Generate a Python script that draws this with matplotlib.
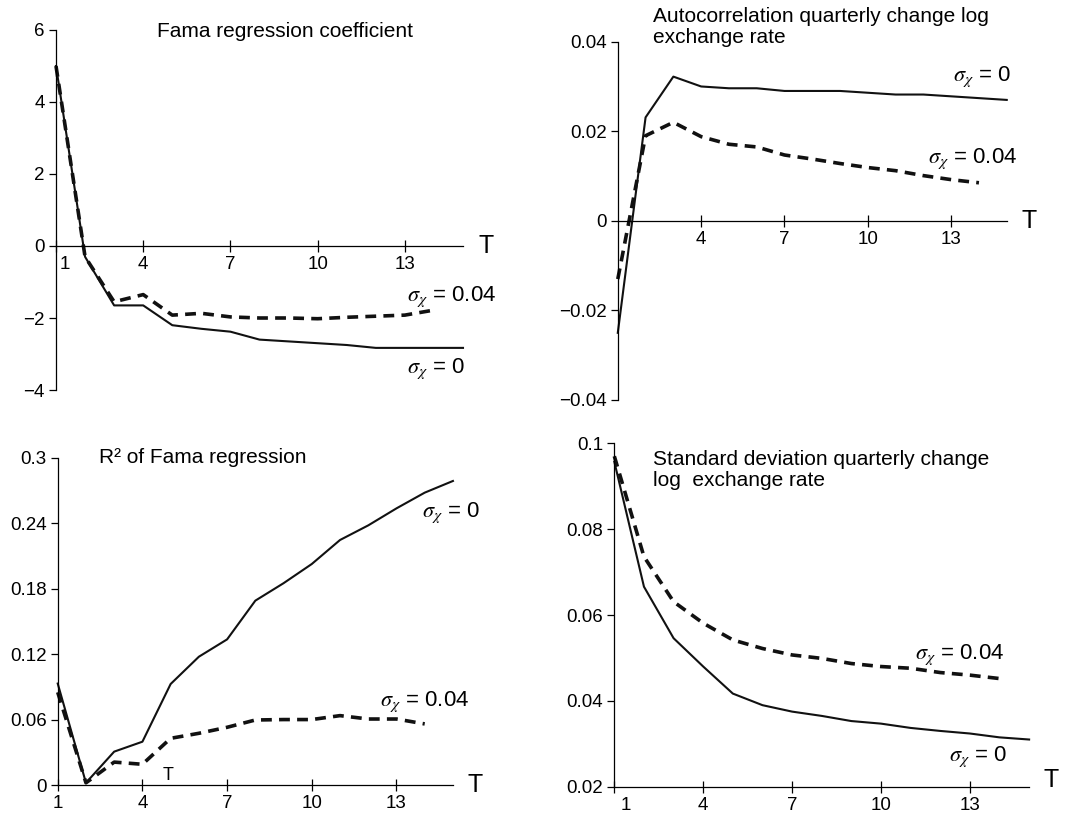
import matplotlib
matplotlib.use('Agg')
import matplotlib.pyplot as plt
import matplotlib.transforms as mtransforms

plt.rcParams['font.family'] = ['Liberation Sans', 'DejaVu Sans']
plt.rcParams['mathtext.fontset'] = 'stix'

# horizon T (quarters)
T = list(range(1, 16))
T_dash = list(range(1, 15))

# Fama regression coefficient
fama_s0 = [5.0, -0.3, -1.65, -1.65, -2.2, -2.3, -2.38, -2.6, -2.65, -2.7, -2.75, -2.83, -2.83, -2.83, -2.83]
fama_s04 = [5.0, -0.3, -1.55, -1.35, -1.92, -1.87, -1.97, -2.0, -2.0, -2.02, -1.98, -1.95, -1.92, -1.78]

# autocorrelation quarterly change log exchange rate
acf_s0 = [-0.025, 0.0231, 0.0322, 0.030, 0.0296, 0.0296, 0.029, 0.029, 0.029, 0.0286, 0.0282, 0.0282, 0.0278, 0.0274, 0.027]
acf_s04 = [-0.013, 0.019, 0.022, 0.0188, 0.0171, 0.0165, 0.0147, 0.0138, 0.0128, 0.0119, 0.0112, 0.0101, 0.0092, 0.0085]

# R^2 of Fama regression
r2_s0 = [0.093, 0.002, 0.0306, 0.0397, 0.0926, 0.1176, 0.1335, 0.169, 0.185, 0.2026, 0.2246, 0.238, 0.2536, 0.268, 0.2787]
r2_s04 = [0.085, 0.002, 0.021, 0.019, 0.0428, 0.0474, 0.0529, 0.0596, 0.060, 0.060, 0.0636, 0.0605, 0.0605, 0.056]

# standard deviation quarterly change log exchange rate
sd_s0 = [0.0957, 0.0666, 0.0546, 0.048, 0.0417, 0.039, 0.0375, 0.0365, 0.0353, 0.0347, 0.0337, 0.033, 0.0324, 0.0315, 0.031]
sd_s04 = [0.097, 0.0736, 0.0631, 0.0581, 0.0542, 0.0522, 0.0507, 0.0499, 0.0487, 0.048, 0.0476, 0.0466, 0.046, 0.0452]

xticks = [1, 4, 7, 10, 13]
xticks_no1 = [4, 7, 10, 13]
fama_yticks = [-4, -2, 0, 2, 4, 6]
fama_ylabels = ['\u22124', '\u22122', '0', '2', '4', '6']
acf_yticks = [-0.04, -0.02, 0, 0.02, 0.04]
acf_ylabels = ['\u22120.04', '\u22120.02', '0', '0.02', '0.04']
r2_yticks = [0, 0.06, 0.12, 0.18, 0.24, 0.3]
r2_ylabels = ['0', '0.06', '0.12', '0.18', '0.24', '0.3']
sd_yticks = [0.02, 0.04, 0.06, 0.08, 0.1]
sd_ylabels = ['0.02', '0.04', '0.06', '0.08', '0.1']

lab0 = r'$\sigma_\chi$ = 0'
lab04 = r'$\sigma_\chi$ = 0.04'

fig = plt.figure(figsize=(10.81, 8.19), dpi=100)


def setup(ax, ylim, yticks, ylabels, xt, zero_axis=False):
    ax.set_xlim(1, 15)
    ax.set_ylim(*ylim)
    for s in ['top', 'right']:
        ax.spines[s].set_visible(False)
    for s in ['left', 'bottom']:
        ax.spines[s].set_linewidth(0.9)
    if zero_axis:
        ax.spines['bottom'].set_position(('data', 0))
    ax.set_yticks(yticks)
    ax.set_yticklabels(ylabels)
    ax.set_xticks(xt)
    ax.set_xticklabels([str(v) for v in xt])
    ax.tick_params(axis='y', direction='out', length=5, width=0.9, labelsize=13.5, pad=3)
    ax.tick_params(axis='x', direction='inout', length=9, width=0.9, labelsize=13.5, pad=3)
    ax.patch.set_visible(False)


def shift_first_xlabel(ax, dx_px):
    lab = ax.xaxis.get_major_ticks()[0].label1
    lab.set_transform(lab.get_transform() +
                      mtransforms.ScaledTranslation(dx_px / 100, 0, fig.dpi_scale_trans))


def curves(ax, s0, s04):
    ax.plot(T, s0, color='#111111', lw=1.5, clip_on=False)
    ax.plot(T_dash, s04, color='#111111', lw=2.6, dashes=(3, 2), clip_on=False)


# top-left
ax1 = fig.add_axes([0.0518, 0.5238, 0.3765, 0.4396])
setup(ax1, (-4, 6), fama_yticks, fama_ylabels, xticks, zero_axis=True)
shift_first_xlabel(ax1, 9)
curves(ax1, fama_s0, fama_s04)
ax1.text(15.8, 0, 'T', fontsize=18, ha='center', va='center')
ax1.text(13.07, -1.4, lab04, fontsize=16, va='center')
ax1.text(13.07, -3.4, lab0, fontsize=16, va='center')
fig.text(0.145, 0.961, 'Fama regression coefficient', fontsize=15, va='center')

# top-right
ax2 = fig.add_axes([0.5715, 0.5116, 0.3598, 0.4375])
setup(ax2, (-0.04, 0.04), acf_yticks, acf_ylabels, xticks_no1, zero_axis=True)
curves(ax2, acf_s0, acf_s04)
ax2.text(15.8, 0, 'T', fontsize=18, ha='center', va='center')
ax2.text(13.06, 0.0322, lab0, fontsize=16, va='center')
ax2.text(12.16, 0.0138, lab04, fontsize=16, va='center')
fig.text(0.604, 0.967, 'Autocorrelation quarterly change log\nexchange rate',
         fontsize=15, va='center', linespacing=1.1)

# bottom-left
ax3 = fig.add_axes([0.0534, 0.0415, 0.3656, 0.3996])
setup(ax3, (0, 0.3), r2_yticks, r2_ylabels, xticks)
curves(ax3, r2_s0, r2_s04)
ax3.text(15.8, 0, 'T', fontsize=18, ha='center', va='center', clip_on=False)
ax3.text(4.9, 0.009, 'T', fontsize=13, ha='center', va='center')
ax3.text(13.9, 0.2496, lab0, fontsize=16, va='center')
ax3.text(12.42, 0.0764, lab04, fontsize=16, va='center')
fig.text(0.0919, 0.4411, 'R\u00b2 of Fama regression', fontsize=15, va='center')

# bottom-right
ax4 = fig.add_axes([0.5683, 0.0394, 0.3837, 0.4193])
setup(ax4, (0.02, 0.1), sd_yticks, sd_ylabels, xticks)
shift_first_xlabel(ax4, 11)
curves(ax4, sd_s0, sd_s04)
ax4.text(15.75, 0.0215, 'T', fontsize=18, ha='center', va='center', clip_on=False)
ax4.text(12.3, 0.027, lab0, fontsize=16, va='center')
ax4.text(11.15, 0.0507, lab04, fontsize=16, va='center')
fig.text(0.6044, 0.4261, 'Standard deviation quarterly change\nlog  exchange rate',
         fontsize=15, va='center', linespacing=1.1)

fig.savefig('out.png', dpi=100)
